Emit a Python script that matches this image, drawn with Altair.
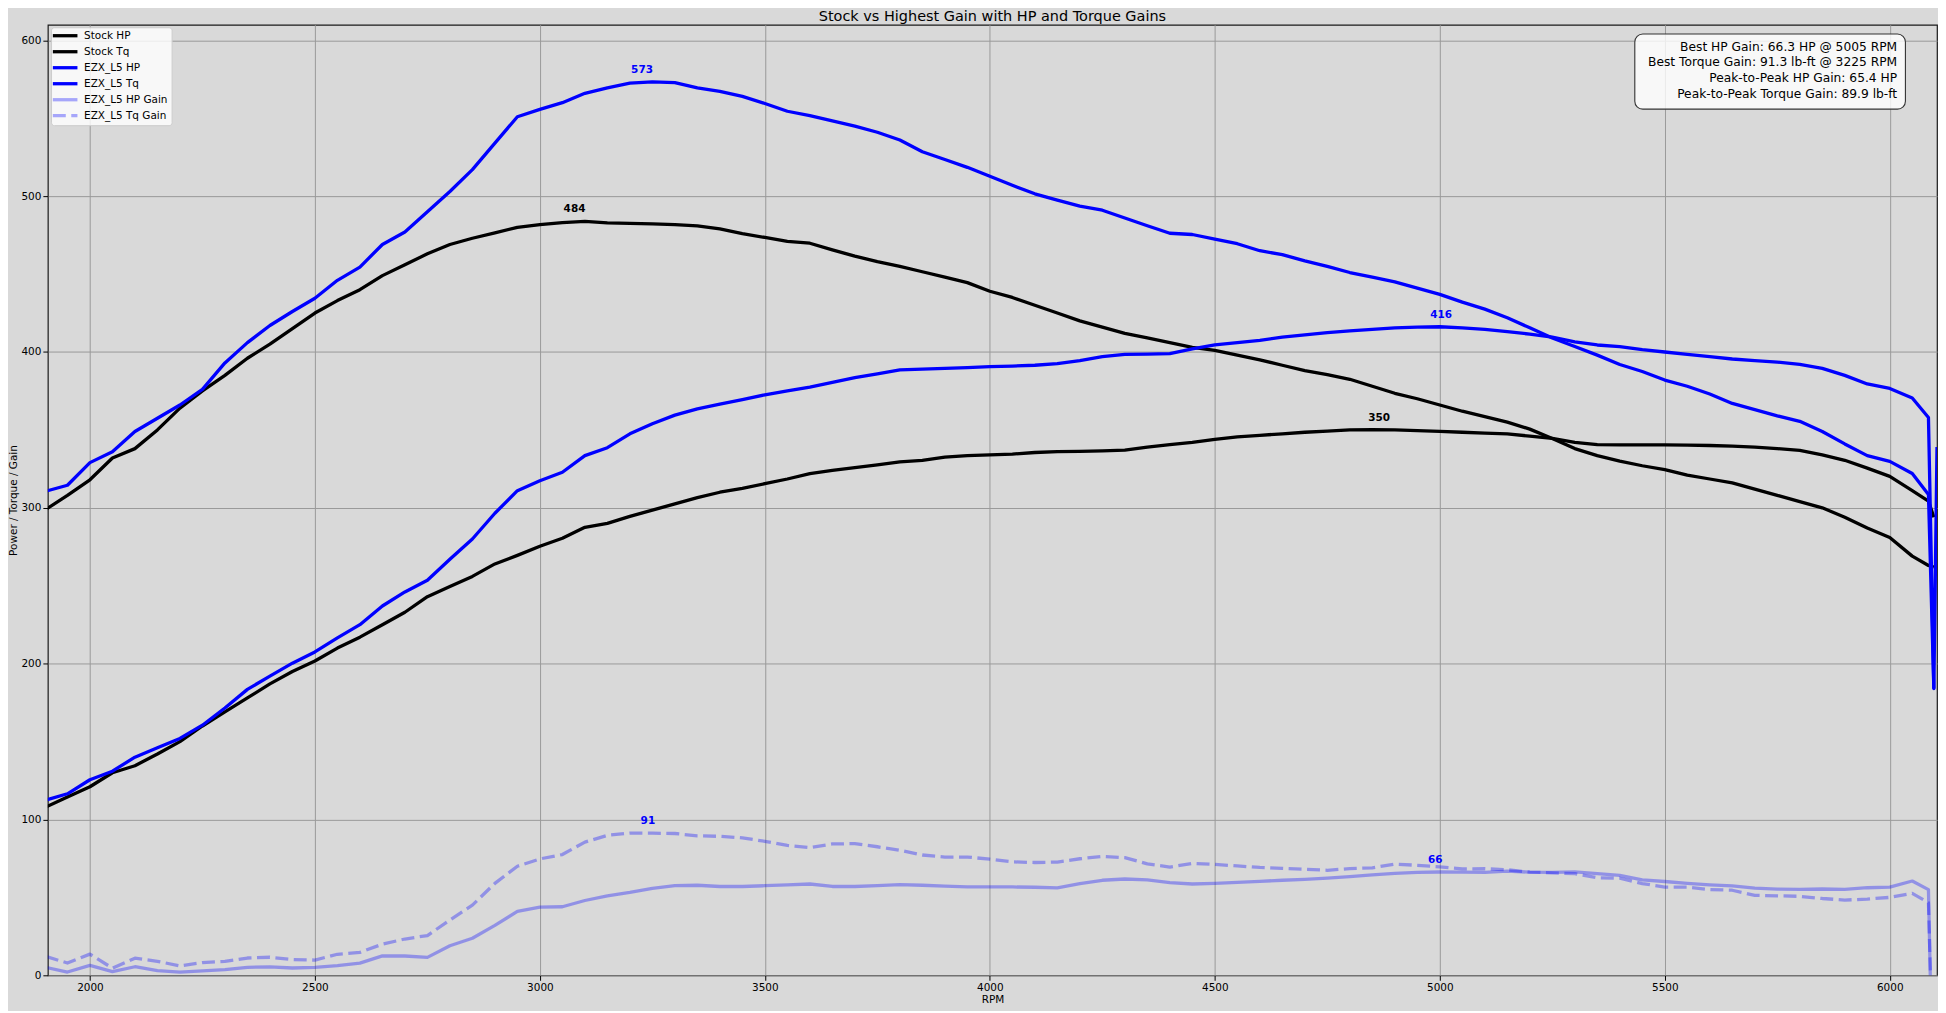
import altair as alt
import pandas as pd

# ---------------- data ----------------
rpm = [1902, 1950, 2000, 2050, 2100, 2150, 2200, 2250, 2300, 2350, 2400, 2450,
       2500, 2550, 2600, 2650, 2700, 2750, 2800, 2850, 2900, 2950, 3000, 3050,
       3100, 3150, 3200, 3250, 3300, 3350, 3400, 3450, 3500, 3550, 3600, 3650,
       3700, 3750, 3800, 3850, 3900, 3950, 4000, 4050, 4100, 4150, 4200, 4250,
       4300, 4350, 4400, 4450, 4500, 4550, 4600, 4650, 4700, 4750, 4800, 4850,
       4900, 4950, 5000, 5050, 5100, 5150, 5200, 5250, 5300, 5350, 5400, 5450,
       5500, 5550, 5600, 5650, 5700, 5750, 5800, 5850, 5900, 5950, 6000, 6050,
       6086, 6098, 6105]

stock_hp = [108, 114.5, 121, 130, 134.5, 142, 150, 160, 169, 178, 187, 195,
            201.7, 210, 217, 225, 233, 243, 249.5, 256, 264, 269.5, 275.3, 280.5,
            287.5, 290, 294.5, 298.5, 302.5, 306.5, 310, 312.5, 315.5, 318.5, 322, 324,
            325.8, 327.5, 329.5, 330.5, 332.5, 333.5, 334, 334.5, 335.5, 336, 336.2, 336.5,
            337, 339, 340.5, 342, 344, 345.5, 346.5, 347.5, 348.5, 349.2, 350, 350.2,
            350, 349.5, 349, 348.5, 348, 347.5, 346, 344.5, 342, 340.5, 340.4, 340.4,
            340.4, 340.3, 340, 339.6, 339, 338, 336.8, 334, 330.5, 325.5, 320.2, 311,
            304.3, 294, None]

stock_tq = [299, 308, 318, 332, 338, 350, 364, 375, 385, 396, 405, 415,
            425, 433, 440, 449, 456, 463, 469, 473, 476.5, 480, 481.7, 483,
            483.8, 482.8, 482.5, 482.2, 481.8, 481, 479, 476, 473.5, 471, 469.8, 465.5,
            461.5, 458, 455, 451.5, 448, 444.5, 439, 435, 430, 425, 420, 416,
            412, 409, 406, 403, 401, 398, 395, 391.5, 388, 385.5, 382.5, 378,
            373.5, 370, 366, 362, 358.5, 355, 350.5, 344.5, 338, 333.5, 330, 327,
            324.5, 321, 318.5, 316, 312, 308, 304, 300, 294, 287, 281, 269,
            263, 262, None]

ezx_hp = [112.4, 116.5, 125.5, 131, 140, 146, 152, 160.5, 171.5, 183.5, 192, 200.3,
          207.5, 216.5, 225, 237, 246, 253.5, 267, 280, 296.5, 311, 317.4, 322.8,
          333.5, 338.6, 347.5, 354, 359.5, 363.5, 366.5, 369.5, 372.5, 375, 377.5, 380.5,
          383.5, 386, 388.5, 389, 389.5, 390, 390.6, 391, 391.5, 392.5, 394.5, 397,
          398.5, 398.7, 399, 402, 404.5, 406, 407.5, 409.5, 411, 412.5, 413.5, 414.5,
          415.5, 416, 416.2, 415.5, 414.5, 413, 411.5, 409.5, 406.5, 404.5, 403.5, 401.5,
          400, 398.5, 397, 395.5, 394.5, 393.5, 392, 389.5, 385, 379.5, 376.6, 370.5,
          358, 184, 339]

ezx_tq = [310.7, 314.5, 329, 336, 349, 357.5, 366, 376, 393, 406, 417, 426,
          434.5, 446, 454.5, 469, 477, 490, 503, 517, 534, 551, 555.7, 560,
          566, 569.5, 572.5, 573.4, 572.8, 569.5, 567.3, 564, 559.5, 554.5, 551.7, 548.3,
          545, 541, 536, 528.5, 523.5, 518.5, 512.8, 507, 501.5, 497.5, 493.6, 491,
          486, 481, 476.2, 475.4, 472.5, 469.5, 465, 462.5, 458.5, 455, 451, 448,
          445, 441, 437, 432, 427.5, 422, 415.5, 409, 403.5, 398, 392, 387.5,
          382, 378, 373, 367, 363, 359, 355.5, 349, 341, 333.5, 329.8, 322,
          308.5, 184, None]

hp_gain = [5.1, 2.1, 6.4, 2.4, 5.5, 3.0, 2.1, 2.8, 3.7, 5.1, 5.4, 4.7,
           5.1, 6.2, 7.8, 12.5, 12.4, 11.5, 19, 23.8, 32, 41, 43.8, 44,
           48, 51, 53.2, 55.8, 57.5, 57.8, 57, 57, 57.5, 58, 58.6, 57,
           57, 57.6, 58.2, 57.8, 57.2, 56.7, 56.7, 56.7, 56.5, 56.1, 58.8, 61,
           61.8, 61.3, 59.5, 58.6, 59, 59.6, 60.3, 61, 61.6, 62.4, 63.3, 64.4,
           65.4, 66, 66.3, 66.2, 66, 66.8, 66.2, 66, 66.4, 65.2, 64.2, 61.3,
           60.2, 59, 58.1, 57.4, 56, 55.3, 55.2, 55.4, 55.1, 56.2, 56.6, 60.5,
           55, -110, None]

tq_gain = [12.1, 7.9, 13.6, 4.6, 11, 9, 6, 8.2, 8.9, 11.1, 11.6, 10.1,
           9.8, 13.5, 14.7, 20, 23.3, 25.5, 35.5, 45, 59, 70, 74.7, 77.5,
           85.5, 89.8, 91.3, 91.2, 91, 89.5, 89.2, 88.2, 86, 83.4, 82, 84.3,
           84.5, 82.5, 80.2, 77.2, 75.9, 75.9, 74.5, 72.8, 72.4, 72.7, 74.8, 76.3,
           75.5, 71.5, 69.5, 71.8, 71.2, 70.2, 69.2, 68.6, 68, 67.4, 68.5, 69,
           71.4, 70.6, 69.6, 68.3, 68.4, 67.7, 66.2, 65.8, 65.2, 62.6, 62.3, 58.9,
           56.6, 56.6, 55, 54.6, 51.3, 51, 50.7, 49.3, 48.3, 48.9, 50, 52.6,
           46.6, -78, None]

series_names = ["Stock HP", "Stock Tq", "EZX_L5 HP", "EZX_L5 Tq",
                "EZX_L5 HP Gain", "EZX_L5 Tq Gain"]
series_cols = ["stock_hp", "stock_tq", "ezx_hp", "ezx_tq", "hp_gain", "tq_gain"]
series_colors = ["#000000", "#000000", "#0000ff", "#0000ff", "#0000ff", "#0000ff"]
series_opacity = [1, 1, 1, 1, 0.33, 0.33]
series_dashed = [False, False, False, False, False, True]

peak_labels = ["573", "484", "416", "350", "91", "66"]
peak_rpm = [3227, 3077, 5003, 4865, 3240, 4990]
peak_val = [573.4, 483.8, 416.2, 350.2, 91.3, 66.3]
peak_colors = ["#0000ff", "#000000", "#0000ff", "#000000", "#0000ff", "#0000ff"]

info_lines = ["Best HP Gain: 66.3 HP @ 5005 RPM",
              "Best Torque Gain: 91.3 lb-ft @ 3225 RPM",
              "Peak-to-Peak HP Gain: 65.4 HP",
              "Peak-to-Peak Torque Gain: 89.9 lb-ft"]

title_text = "Stock vs Highest Gain with HP and Torque Gains"
x_ticks = [2000, 2500, 3000, 3500, 4000, 4500, 5000, 5500, 6000]
y_ticks = [0, 100, 200, 300, 400, 500, 600]

# ---------------- chart ----------------
W, H = 1896, 954
FONT = "DejaVu Sans"

df = pd.DataFrame({"rpm": rpm, "stock_hp": stock_hp, "stock_tq": stock_tq,
                   "ezx_hp": ezx_hp, "ezx_tq": ezx_tq,
                   "hp_gain": hp_gain, "tq_gain": tq_gain})

xscale = alt.Scale(domain=[1906.5, 6105], nice=False, zero=False)
yscale = alt.Scale(domain=[0, 610], nice=False, zero=False)
xaxis = alt.Axis(values=x_ticks, format="d", title="RPM")
yaxis = alt.Axis(values=y_ticks, format="d", title="Power / Torque / Gain",
                 titleX=-34, titleY=H / 2, titleAngle=-90,
                 titleAlign="center", titleBaseline="middle")

layers = []
for col, color, op, dashed in zip(series_cols, series_colors, series_opacity, series_dashed):
    kw = dict(color=color, opacity=op, strokeWidth=3.3, clip=True,
              strokeJoin="round", strokeCap="butt")
    if dashed:
        kw["strokeDash"] = [13, 5.5]
    layers.append(
        alt.Chart(df).transform_filter(f"isValid(datum.{col})").mark_line(**kw).encode(
            x=alt.X("rpm:Q", scale=xscale, axis=xaxis),
            y=alt.Y(f"{col}:Q", scale=yscale, axis=yaxis),
        )
    )

peaks = pd.DataFrame({"rpm": peak_rpm, "val": peak_val,
                      "label": peak_labels, "color": peak_colors})
layers.append(
    alt.Chart(peaks).mark_text(font=FONT, fontSize=10.5, fontWeight="bold",
                               dy=-12, baseline="middle", align="center").encode(
        x=alt.X("rpm:Q", scale=xscale, axis=xaxis),
        y=alt.Y("val:Q", scale=yscale, axis=yaxis),
        text="label:N",
        color=alt.Color("color:N", scale=None),
    )
)

one = pd.DataFrame({"k": [0]})

# title (drawn as text so that it sits right above the axes)
layers.append(
    alt.Chart(one).mark_text(font=FONT, fontSize=14.5, align="center",
                             baseline="alphabetic", color="black").encode(
        x=alt.value(W / 2), y=alt.value(-4), text=alt.value(title_text))
)

# legend (top-left, inside the axes)
layers.append(
    alt.Chart(one).mark_rect(fill="white", fillOpacity=0.8, stroke="#cccccc",
                             strokeWidth=1, cornerRadius=3).encode(
        x=alt.value(3.7), x2=alt.value(124.7), y=alt.value(3), y2=alt.value(101.3))
)
for i, (name, color, op, dashed) in enumerate(zip(series_names, series_colors,
                                                  series_opacity, series_dashed)):
    ly = 11 + 16.06 * i
    kw = dict(color=color, opacity=op, strokeWidth=3.3, strokeCap="butt")
    if dashed:
        kw["strokeDash"] = [13, 5.5]
    layers.append(
        alt.Chart(one).mark_rule(**kw).encode(
            x=alt.value(5), x2=alt.value(29.7), y=alt.value(ly))
    )
    layers.append(
        alt.Chart(one).mark_text(font=FONT, fontSize=10.5, align="left",
                                 baseline="middle", color="black").encode(
            x=alt.value(36.3), y=alt.value(ly), text=alt.value(name))
    )

# info box (top-right)
layers.append(
    alt.Chart(one).mark_rect(fill="white", fillOpacity=0.8, stroke="#333333",
                             strokeWidth=1.1, cornerRadius=8).encode(
        x=alt.value(1592.7), x2=alt.value(1864.3), y=alt.value(9.3), y2=alt.value(84.7))
)
for i, line in enumerate(info_lines):
    layers.append(
        alt.Chart(one).mark_text(font=FONT, fontSize=12.3, align="right",
                                 baseline="middle", color="black").encode(
            x=alt.value(1856), y=alt.value(22 + 15.67 * i), text=alt.value(line))
    )

chart = alt.layer(*layers).properties(
    width=W, height=H,
    background="#d9d9d9",
    padding={"left": 40, "top": 15, "right": 1, "bottom": 34},
    autosize=alt.AutoSizeParams(type="none"),
).configure_view(
    fill="#d9d9d9", stroke="#1a1a1a", strokeWidth=1.2
).configure_axis(
    labelFont=FONT, labelFontSize=10.5, labelColor="black",
    titleFont=FONT, titleFontSize=10.5, titleFontWeight="normal", titleColor="black",
    tickColor="black", tickSize=5, tickWidth=1, domain=False,
    grid=True, gridColor="#9a9a9a", gridWidth=1, gridOpacity=1,
    labelPadding=2,
).configure_axisX(
    titlePadding=2, labelFlush=False
)

chart.save("out.html", embed_options={"renderer": "svg", "actions": False})
